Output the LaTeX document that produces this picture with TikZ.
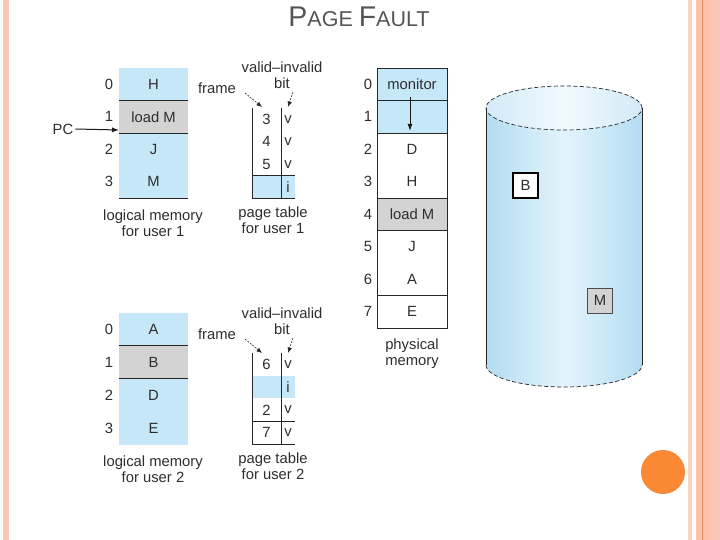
\documentclass[tikz,border=0pt]{standalone}
\usepackage{fontspec}
\setmainfont{Liberation Sans}
\usetikzlibrary{arrows.meta,calc}
\definecolor{lb}{HTML}{C6E7F8}
\definecolor{gr}{HTML}{D3D3D3}
\definecolor{tx}{HTML}{2E2E2E}
\definecolor{ttl}{HTML}{555555}
\definecolor{peachA}{HTML}{F8C8B4}
\definecolor{peachB}{HTML}{FAD3C3}
\definecolor{peachC}{HTML}{FCC2AA}
\definecolor{peachD}{HTML}{E48E60}
\definecolor{cylE}{HTML}{B4DCF2}
\definecolor{cylM}{HTML}{E3F4FC}
\definecolor{orng}{HTML}{F98A33}
\begin{document}
\begin{tikzpicture}[x=1pt,y=-1pt,
  font=\fontsize{14.8}{16.2}\selectfont, text=tx,
  lcell/.style={minimum width=69pt, minimum height=32.5pt, inner sep=0pt, outer sep=0pt},
  pcell/.style={minimum width=70pt, minimum height=32.5pt, inner sep=0pt, outer sep=0pt},
  fcell/.style={minimum width=29pt, minimum height=22.5pt, inner sep=0pt, outer sep=0pt},
  bcell/.style={minimum width=14pt, minimum height=22.5pt, inner sep=0pt, outer sep=0pt},
  fcellb/.style={fcell, minimum height=22.75pt},
  bcellb/.style={bcell, minimum height=22.75pt},
  lbl/.style={inner sep=0pt, align=center},
  sep/.style={draw=black!85, line width=0.8pt},
  arr/.style={draw=black!90, line width=1pt, -{Latex[length=7pt,width=5pt]}},
  darr/.style={draw=black!85, line width=0.6pt, dash pattern=on 2pt off 1.2pt, -{Latex[length=5.5pt,width=4.5pt]}},
  cyl/.style={draw=black!85, line width=0.7pt},
  cyld/.style={draw=black!85, line width=0.7pt, dash pattern=on 4pt off 2.5pt}]
\useasboundingbox (0,0) rectangle (720,540);
\fill[white] (0,0) rectangle (720,540);
% page borders
\fill[peachA] (3,0) rectangle (9,540);
\fill[peachB] (688,0) rectangle (692,540);
\fill[peachC] (696,0) rectangle (720,540);
\fill[peachD] (702,0) rectangle (703.3,540);
\fill[peachA!80!peachC] (710,0) rectangle (720,540);
% title
\node[anchor=base, text=ttl, inner sep=0pt] (title) at (359,27)
  {{\fontsize{28.5}{28.5}\selectfont P}{\fontsize{21.5}{21.5}\selectfont AGE}\hspace{0.4em}{\fontsize{28.5}{28.5}\selectfont F}{\fontsize{21.5}{21.5}\selectfont AULT}};

% ---------- logical memory user 1
\node[lcell, fill=lb] (l1r0) at (153.5,84.25) {H};
\node[lcell, fill=gr] (l1r1) at (153.5,116.75) {load M};
\node[lcell, fill=lb] (l1r2) at (153.5,149.25) {J};
\node[lcell, fill=lb] (l1r3) at (153.5,181.75) {M};
\draw[sep] (l1r0.south west) -- (l1r0.south east);
\draw[sep] (l1r1.south west) -- (l1r1.south east);
\draw[sep] (l1r3.south west) -- (l1r3.south east);
\node[lbl] (l1n0) at (109,84.25) {0};
\node[lbl] (l1n1) at (109,116.75) {1};
\node[lbl] (l1n2) at (109,149.25) {2};
\node[lbl] (l1n3) at (109,181.75) {3};
\node[lbl] (pc) at (63,129) {PC};
\coordinate (pcend) at (119,130);
\draw[arr] (pc.east) ++(2,0) coordinate (pcs) (pcs) -- (pcend);
\node[lbl] (l1cap) at (153,223) {logical memory\\for user 1};

% ---------- page table user 1
\node[fcell] (t1f0) at (266.5,119.25) {3};
\node[fcell] (t1f1) at (266.5,141.75) {4};
\node[fcell] (t1f2) at (266.5,164.25) {5};
\node[fcell, fill=lb] (t1f3) at (266.5,186.75) {};
\node[bcell] (t1b0) at (288,119.25) {v};
\node[bcell] (t1b1) at (288,141.75) {v};
\node[bcell] (t1b2) at (288,164.25) {v};
\node[bcell, fill=lb] (t1b3) at (288,186.75) {i};
\draw[sep] (t1f0.north west) -- (t1f3.south west);
\draw[sep] (t1b0.north west) -- (t1b3.south west);
\draw[sep] (t1f3.north west) -- (t1b3.north east);
\draw[sep] (t1f3.south west) -- (t1b3.south east);
\node[lbl] (t1frame) at (217,88) {frame};
\node[lbl] (t1vi) at (282,67) {valid--invalid};
\node[lbl] (t1bit) at (282,83) {bit};
\coordinate (t1fa) at (245,93);
\coordinate (t1fb) at (262,107);
\coordinate (t1ba) at (293,92);
\coordinate (t1bb) at (288,107);
\draw[darr] (t1fa) -- (t1fb);
\draw[darr] (t1ba) -- (t1bb);
\node[lbl] (t1cap) at (273,220) {page table\\for user 1};

% ---------- logical memory user 2
\node[lcell, fill=lb] (l2r0) at (153.5,329.5) {A};
\node[lcell, fill=gr] (l2r1) at (153.5,362.5) {B};
\node[lcell, fill=lb] (l2r2) at (153.5,395.5) {D};
\node[lcell, fill=lb] (l2r3) at (153.5,428.5) {E};
\draw[sep] (l2r0.south west) -- (l2r0.south east);
\draw[sep] (l2r1.south west) -- (l2r1.south east);
\node[lbl] (l2n0) at (109,329.5) {0};
\node[lbl] (l2n1) at (109,362.5) {1};
\node[lbl] (l2n2) at (109,395.5) {2};
\node[lbl] (l2n3) at (109,428.5) {3};
\node[lbl] (l2cap) at (153,469) {logical memory\\for user 2};

% ---------- page table user 2
\node[fcellb] (t2f0) at (266.5,364.4) {6};
\node[fcellb, fill=lb] (t2f1) at (266.5,387.1) {};
\node[fcellb] (t2f2) at (266.5,409.9) {2};
\node[fcellb] (t2f3) at (266.5,432.6) {7};
\node[bcellb] (t2b0) at (288,364.4) {v};
\node[bcellb, fill=lb] (t2b1) at (288,387.1) {i};
\node[bcellb] (t2b2) at (288,409.9) {v};
\node[bcellb] (t2b3) at (288,432.6) {v};
\draw[sep] (t2f0.north west) -- (t2f3.south west);
\draw[sep] (t2b0.north west) -- (t2b3.south west);
\draw[sep] (t2f3.north west) -- (t2b3.north east);
\draw[sep] (t2f3.south west) -- (t2b3.south east);
\node[lbl] (t2frame) at (217,334) {frame};
\node[lbl] (t2vi) at (282,313) {valid--invalid};
\node[lbl] (t2bit) at (282,329) {bit};
\coordinate (t2fa) at (245,339);
\coordinate (t2fb) at (262,353);
\coordinate (t2ba) at (293,338);
\coordinate (t2bb) at (288,353);
\draw[darr] (t2fa) -- (t2fb);
\draw[darr] (t2ba) -- (t2bb);
\node[lbl] (t2cap) at (273,466) {page table\\for user 2};

% ---------- physical memory
\node[pcell, fill=lb] (p0) at (412,84.25) {monitor};
\node[pcell, fill=lb] (p1) at (412,116.75) {};
\node[pcell] (p2) at (412,149.25) {D};
\node[pcell] (p3) at (412,181.75) {H};
\node[pcell, fill=gr] (p4) at (412,214.25) {load M};
\node[pcell] (p5) at (412,246.75) {J};
\node[pcell] (p6) at (412,279.25) {A};
\node[pcell] (p7) at (412,311.75) {E};
\draw[sep] (p0.north west) rectangle (p7.south east);
\draw[sep] (p0.south west) -- (p0.south east);
\draw[sep] (p1.south west) -- (p1.south east);
\draw[sep] (p3.south west) -- (p3.south east);
\draw[sep] (p4.south west) -- (p4.south east);
\draw[sep] (p6.south west) -- (p6.south east);
\foreach \i/\y in {0/84.25,1/116.75,2/149.25,3/181.75,4/214.25,5/246.75,6/279.25,7/311.75}
  \node[lbl] (pn\i) at (368,\y) {\i};
\coordinate (mona) at (410,97);
\coordinate (monb) at (410,131);
\draw[arr] (mona) -- (monb);
\node[lbl] (pcap) at (412,354) {physical\\memory};

% ---------- backing store (disk)
\shade[left color=cylE, right color=cylE, middle color=cylM]
  (486,108) -- (486,365) arc[start angle=180, end angle=360, x radius=78pt, y radius=22pt]
  -- (642,108) arc[start angle=0, end angle=180, x radius=78pt, y radius=22pt] -- cycle;
\shade[left color=cylE!60!white, right color=cylE!60!white, middle color=cylM!50!white]
  (564,108) ellipse[x radius=78pt, y radius=22pt];
\draw[cyl] (486,108) -- (486,365);
\draw[cyl] (642,108) -- (642,365);
\draw[cyld] (564,108) ellipse[x radius=78pt, y radius=22pt];
\draw[cyld] (486,365) arc[start angle=180, end angle=360, x radius=78pt, y radius=22pt];
\node[draw=black, line width=1.3pt, fill=white, minimum size=25pt, inner sep=0pt] (dB) at (525.5,185.5) {B};
\node[draw=black!70, line width=0.6pt, fill=gr, minimum size=25pt, inner sep=0pt] (dM) at (600,300.5) {M};

% ---------- orange dot
\fill[orng] (663,472) circle[radius=22pt];
\end{tikzpicture}
\end{document}
